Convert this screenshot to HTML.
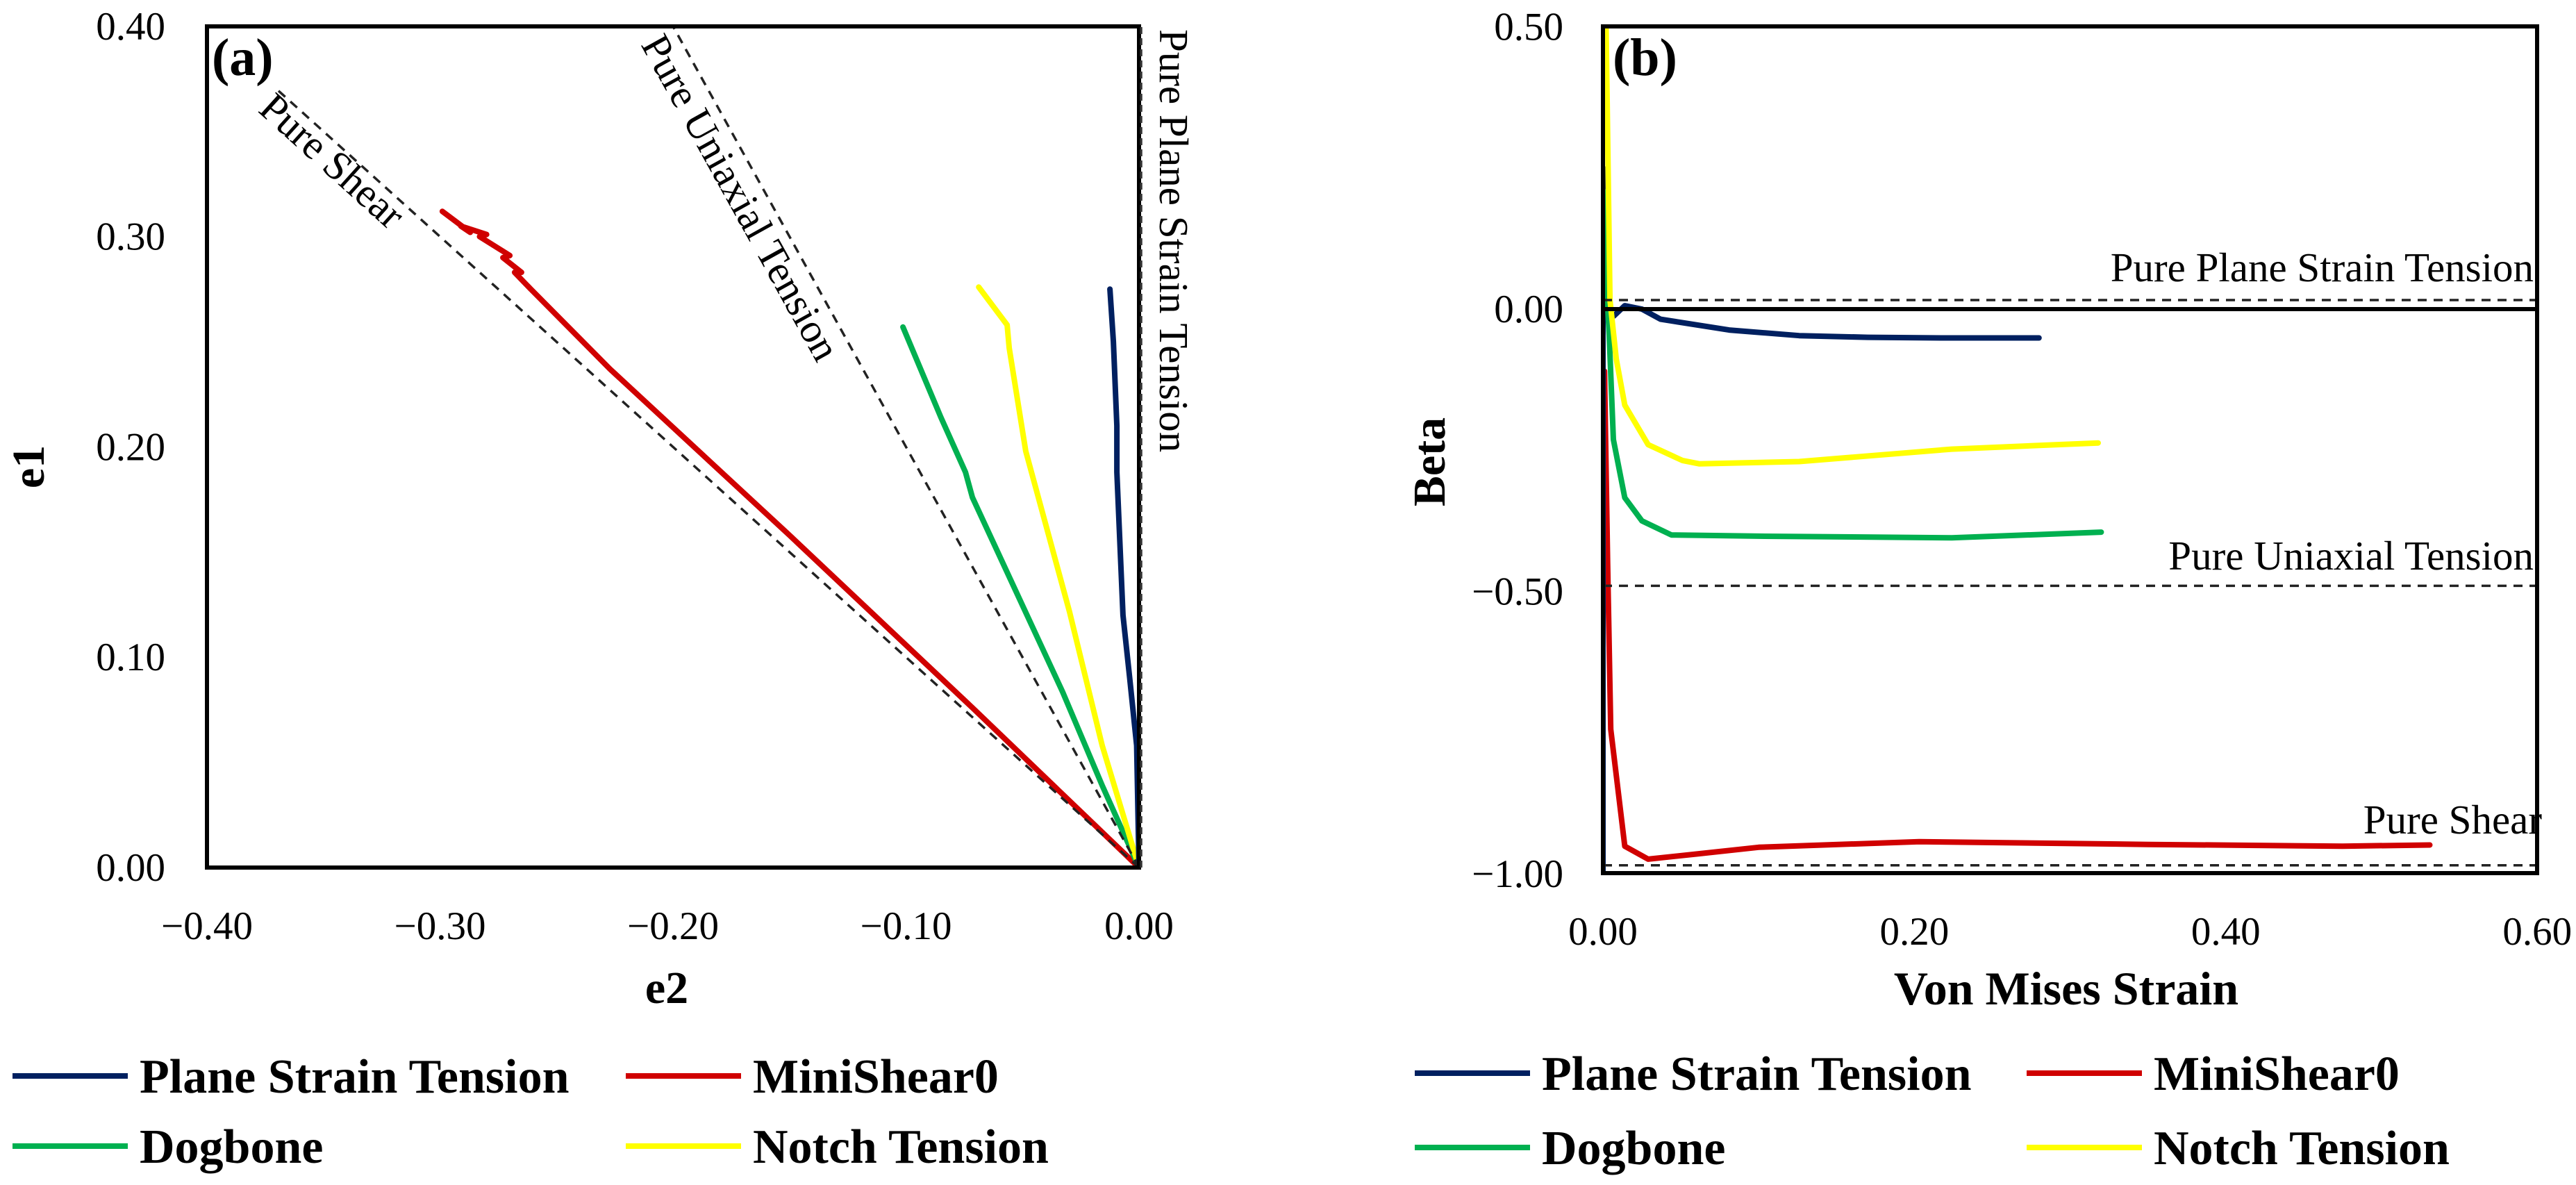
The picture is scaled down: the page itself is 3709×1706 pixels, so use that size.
<!DOCTYPE html>
<html><head><meta charset="utf-8"><style>
html,body{margin:0;padding:0;background:#fff;}
svg{display:block;font-family:"Liberation Serif",serif;}
</style></head><body>
<svg id="fig" width="3709" height="1706" viewBox="0 0 3709 1706" xmlns="http://www.w3.org/2000/svg">
<defs>
<clipPath id="clipA"><rect x="298" y="38" width="1343" height="1211"/></clipPath>
<clipPath id="clipB"><rect x="2308" y="38" width="1345" height="1219"/></clipPath>
</defs>
<g id="panelA"></g>
<g id="panelB"></g>
</svg>
<script>
// ---------- Panel (a) data ----------
const aXTicks = [-0.4, -0.3, -0.2, -0.1, 0.0];
const aXTickLabels = ["\u22120.40", "\u22120.30", "\u22120.20", "\u22120.10", "0.00"];
const aYTicks = [0, 0.1, 0.2, 0.3, 0.4];
const aYTickLabels = ["0.00", "0.10", "0.20", "0.30", "0.40"];
const aPST_e2 = [0, -0.001, -0.004, -0.0069, -0.0095, -0.0095, -0.011, -0.0125];
const aPST_e1 = [0, 0.058, 0.09, 0.12, 0.188, 0.21, 0.25, 0.275];
const aShear_e2 = [0, -0.0715, -0.15, -0.227, -0.261, -0.268, -0.265, -0.273, -0.270, -0.283, -0.280, -0.291, -0.287, -0.299];
const aShear_e1 = [0, 0.076, 0.158, 0.237, 0.275, 0.283, 0.283, 0.290, 0.291, 0.300, 0.301, 0.305, 0.302, 0.312];
const aDog_e2 = [0, -0.0158, -0.0328, -0.0715, -0.0745, -0.085, -0.1013];
const aDog_e1 = [0, 0.039, 0.0835, 0.176, 0.188, 0.214, 0.257];
const aNotch_e2 = [0, -0.0158, -0.0298, -0.0486, -0.0557, -0.0566, -0.0688];
const aNotch_e1 = [0, 0.058, 0.1215, 0.198, 0.247, 0.258, 0.276];
const aRefShear = [[0,0],[-0.37,0.37]];
const aRefUni = [[0,0],[-0.2,0.4]];
const aRefPST = [[0,0],[0,0.4]];

// ---------- Panel (b) data ----------
const bXTicks = [0, 0.2, 0.4, 0.6];
const bXTickLabels = ["0.00", "0.20", "0.40", "0.60"];
const bYTicks = [0.5, 0, -0.5, -1];
const bYTickLabels = ["0.50", "0.00", "\u22120.50", "\u22121.00"];
const bPST_x = [0, 0, 0.002, 0.004, 0.007, 0.014, 0.025, 0.037, 0.081, 0.126, 0.17, 0.22, 0.28];
const bPST_y = [-1, 0.25, 0.1, -0.01, -0.012, 0.006, 0.0, -0.018, -0.037, -0.047, -0.05, -0.051, -0.051];
const bShear_x = [0.001, 0.003, 0.005, 0.014, 0.029, 0.06, 0.1, 0.203, 0.35, 0.475, 0.531];
const bShear_y = [-0.11, -0.45, -0.744, -0.951, -0.974, -0.965, -0.953, -0.943, -0.948, -0.951, -0.949];
const bDog_x = [0, 0.001, 0.004, 0.0067, 0.014, 0.025, 0.044, 0.096, 0.224, 0.32];
const bDog_y = [0.21, 0.117, -0.047, -0.231, -0.334, -0.375, -0.40, -0.402, -0.405, -0.395];
const bNotch_x = [0.002, 0.0045, 0.0085, 0.014, 0.029, 0.051, 0.062, 0.126, 0.224, 0.318];
const bNotch_y = [0.5, 0.016, -0.088, -0.17, -0.24, -0.268, -0.274, -0.27, -0.248, -0.237];
const bRefLevels = [0.016, -0.49, -0.985];
const bRefLabels = ["Pure Plane Strain Tension", "Pure Uniaxial Tension", "Pure Shear"];

const NS = "http://www.w3.org/2000/svg";
function mk(tag, attrs, parent) {
  const e = document.createElementNS(NS, tag);
  for (const k in attrs) e.setAttribute(k, attrs[k]);
  parent.appendChild(e);
  return e;
}
const COL = {pst: "#002060", shear: "#d00000", dog: "#00b050", notch: "#ffff00"};

const ax = e2 => 1640 + e2 * 3355;
const ay = e1 => 1249 - e1 * 3028;
const bx = v => 2308 + v * 2242;
const by = v => 445 - v * 813;

function poly(xs, ys, fx, fy) {
  return xs.map((x, i) => fx(x).toFixed(1) + "," + fy(ys[i]).toFixed(1)).join(" ");
}

// ---------- Panel A ----------
const A = document.getElementById("panelA");
const aPlot = mk("g", {"clip-path": "url(#clipA)"}, A);


[[aRefShear, "ref-line-pure-shear"], [aRefUni, "ref-line-pure-uniaxial"], [aRefPST, "ref-line-pure-plane-strain"]].forEach(r => {
  const l = mk("line", {x1: ax(r[0][0][0]), y1: ay(r[0][0][1]), x2: ax(r[0][1][0]), y2: ay(r[0][1][1]), stroke: "#222", "stroke-width": 3.5, "stroke-dasharray": "13 10"}, A);
  
  
});
[[aShear_e2, aShear_e1, COL.shear, "series-minishear0-a"], [aDog_e2, aDog_e1, COL.dog, "series-dogbone-a"], [aNotch_e2, aNotch_e1, COL.notch, "series-notch-tension-a"], [aPST_e2, aPST_e1, COL.pst, "series-plane-strain-a"]].forEach(s => {
  const p = mk("polyline", {points: poly(s[0], s[1], ax, ay), fill: "none", stroke: s[2], "stroke-width": 8, "stroke-linejoin": "round", "stroke-linecap": "round"}, aPlot);
  
  
});
const fa = mk("rect", {x: 298, y: 38, width: 1342, height: 1211, fill: "none", stroke: "#000", "stroke-width": 6}, A);


const pd = mk("line", {x1: 1643, y1: 1249, x2: 1643, y2: 38, stroke: "#333", "stroke-width": 3.5, "stroke-dasharray": "10 6"}, A);



aXTicks.forEach((t, i) => {
  const e = mk("text", {x: ax(t), y: 1352, "font-size": 57, "text-anchor": "middle"}, A);
  e.textContent = aXTickLabels[i];
  
  
});
aYTicks.forEach((t, i) => {
  const e = mk("text", {x: 238, y: ay(t) + 19, "font-size": 57, "text-anchor": "end"}, A);
  e.textContent = aYTickLabels[i];
  
  
});
let t;
t = mk("text", {x: 960, y: 1444, "font-size": 66, "font-weight": "bold", "text-anchor": "middle"}, A); t.textContent = "e2";


t = mk("text", {x: 0, y: 0, "font-size": 66, "font-weight": "bold", "text-anchor": "middle", transform: "translate(63,672) rotate(-90)"}, A); t.textContent = "e1";


t = mk("text", {x: 305, y: 108, "font-size": 76, "font-weight": "bold"}, A); t.textContent = "(a)";


t = mk("text", {x: 0, y: 0, "font-size": 59, transform: "translate(370,160) rotate(42.1)"}, A); t.textContent = "Pure Shear";


t = mk("text", {x: 0, y: 0, "font-size": 59, transform: "translate(922,64) rotate(61)"}, A); t.textContent = "Pure Uniaxial Tension";


t = mk("text", {x: 0, y: 0, "font-size": 59, transform: "translate(1670,42) rotate(90)"}, A); t.textContent = "Pure Plane Strain Tension";



// ---------- Panel B ----------
const B = document.getElementById("panelB");
const bPlot = mk("g", {"clip-path": "url(#clipB)"}, B);


bRefLevels.forEach((v, i) => {
  const l = mk("line", {x1: 2308, y1: by(v), x2: 3653, y2: by(v), stroke: "#222", "stroke-width": 3.5, "stroke-dasharray": "13 10"}, B);
  
  
});
const zl = mk("line", {x1: 2308, y1: by(0), x2: 3653, y2: by(0), stroke: "#000", "stroke-width": 6}, B);


[[bShear_x, bShear_y, COL.shear, "series-minishear0-b"], [bPST_x, bPST_y, COL.pst, "series-plane-strain-b"], [bDog_x, bDog_y, COL.dog, "series-dogbone-b"], [bNotch_x, bNotch_y, COL.notch, "series-notch-tension-b"]].forEach(s => {
  const p = mk("polyline", {points: poly(s[0], s[1], bx, by), fill: "none", stroke: s[2], "stroke-width": 8, "stroke-linejoin": "round", "stroke-linecap": "round"}, bPlot);
  
  
});
const fb = mk("rect", {x: 2308, y: 38, width: 1345, height: 1219, fill: "none", stroke: "#000", "stroke-width": 6}, B);


const refLabelY = [405, 820, 1200];
const refLabelX = [3648, 3648, 3660];
bRefLabels.forEach((s, i) => {
  const e = mk("text", {x: refLabelX[i], y: refLabelY[i], "font-size": 59, "text-anchor": "end"}, B);
  e.textContent = s;
  
  
});
bXTicks.forEach((v, i) => {
  const e = mk("text", {x: bx(v), y: 1360, "font-size": 57, "text-anchor": "middle"}, B);
  e.textContent = bXTickLabels[i];
  
  
});
bYTicks.forEach((v, i) => {
  const e = mk("text", {x: 2251, y: by(v) + 19, "font-size": 57, "text-anchor": "end"}, B);
  e.textContent = bYTickLabels[i];
  
  
});
t = mk("text", {x: 2975, y: 1446, "font-size": 68, "font-weight": "bold", "text-anchor": "middle"}, B); t.textContent = "Von Mises Strain";


t = mk("text", {x: 0, y: 0, "font-size": 66, "font-weight": "bold", "text-anchor": "middle", transform: "translate(2080,665) rotate(-90)"}, B); t.textContent = "Beta";


t = mk("text", {x: 2322, y: 108, "font-size": 76, "font-weight": "bold"}, B); t.textContent = "(b)";



// ---------- Legends ----------
const legNames = ["Plane Strain Tension", "MiniShear0", "Dogbone", "Notch Tension"];
const legCols = [COL.pst, COL.shear, COL.dog, COL.notch];
function legend(parent, x0, x1, rows) {
  legNames.forEach((n, i) => {
    const lx = (i % 2 === 0) ? x0 : x1;
    const ly = rows[Math.floor(i / 2)];
    const g = mk("g", {}, parent);
    
    
    mk("line", {x1: lx, y1: ly, x2: lx + 166, y2: ly, stroke: legCols[i], "stroke-width": 8}, g);
    const tx = mk("text", {x: lx + 183, y: ly + 24, "font-size": 70, "font-weight": "bold"}, g);
    tx.textContent = n;
  });
}
legend(A, 18, 901, [1549, 1650]);
legend(B, 2037, 2918, [1545, 1652]);
</script>
</body></html>
